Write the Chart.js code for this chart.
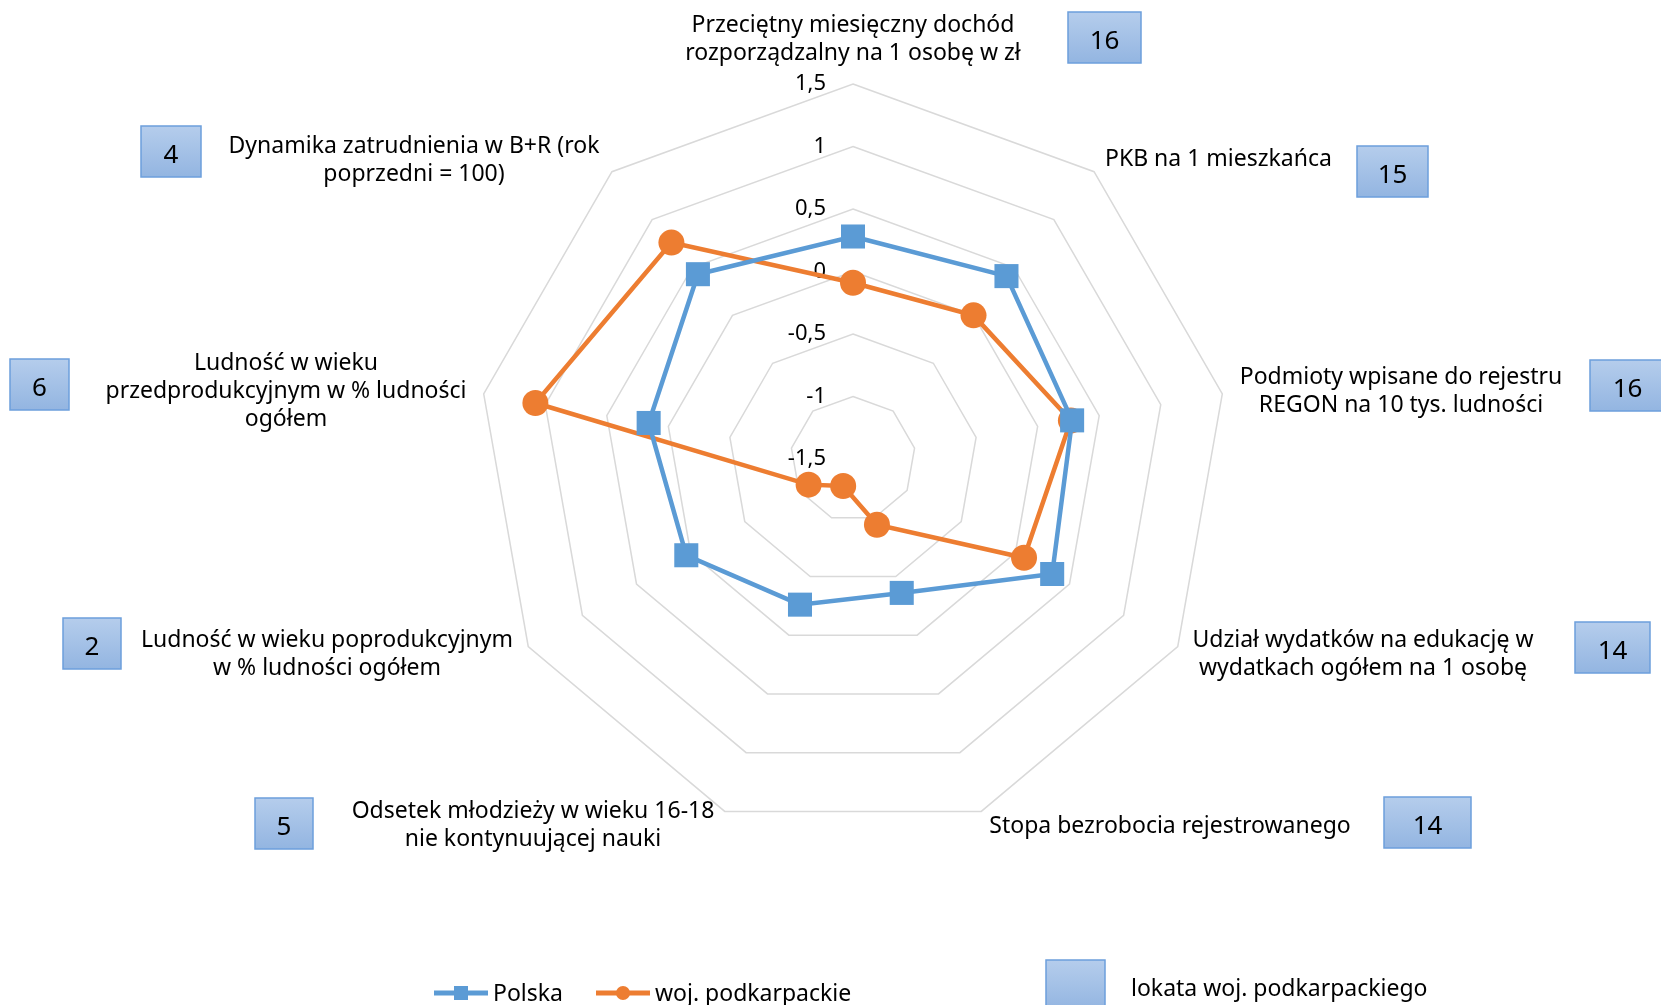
<!DOCTYPE html>
<html lang="pl">
<head>
<meta charset="utf-8">
<title>Wskaźniki - woj. podkarpackie na tle Polski</title>
<script src="https://cdn.jsdelivr.net/npm/chart.js@4.4.1/dist/chart.umd.min.js"></script>
<style>
    html, body { margin: 0; padding: 0; background: #ffffff; }
    #wrap { width: 1661px; height: 1005px; position: relative; }
</style>
</head>
<body>
<div id="wrap"><canvas id="radarChart" width="1661" height="1005"></canvas></div>
<script>
// --- DANE ---
const categories = [
    ['Przeciętny miesięczny dochód', 'rozporządzalny na 1 osobę w zł'],
    ['PKB na 1 mieszkańca'],
    ['Podmioty wpisane do rejestru', 'REGON na 10 tys. ludności'],
    ['Udział wydatków na edukację w', 'wydatkach ogółem na 1 osobę'],
    ['Stopa bezrobocia rejestrowanego'],
    ['Odsetek młodzieży w wieku 16-18', 'nie kontynuującej nauki'],
    ['Ludność w wieku poprodukcyjnym', 'w % ludności ogółem'],
    ['Ludność w wieku', 'przedprodukcyjnym w % ludności', 'ogółem'],
    ['Dynamika zatrudnienia w B+R (rok', 'poprzedni = 100)']
];
const polska = [0.28, 0.41, 0.28, 0.34, -0.36, -0.26, 0.04, 0.16, 0.43];
const podkarpackie = [-0.09, 0.00, 0.27, 0.08, -0.94, -1.27, -1.09, 1.08, 0.76];
const ranks = [16, 15, 16, 14, 14, 5, 2, 6, 4];
const seriesNames = ['Polska', 'woj. podkarpackie'];
const rankLegend = 'lokata woj. podkarpackiego';
const scaleMin = -1.5;
const scaleMax = 1.5;
const scaleStep = 0.5;

// --- UKŁAD (pozycje opisów i ramek z lokatą) ---
const FONT = '"Noto Sans", "Open Sans", sans-serif';
const labelLayout = [ // [środek x, linia bazowa pierwszego wiersza]
    [853, 32], [1105, 166], [1401, 384], [1363, 647], [1170, 833],
    [533, 818], [327, 647], [286, 370], [414, 153]
];
const labelAlign = ['center', 'left', 'center', 'center', 'center', 'center', 'center', 'center', 'center'];
const rankBoxes = [ // [x, y, szer., wys.]
    [1068, 12, 73, 51], [1357, 146, 71, 51], [1590, 360, 75, 51], [1575, 622, 75, 51], [1384, 797, 87, 51],
    [255, 798, 58, 51], [63, 618, 58, 51], [10, 359, 59, 51], [141, 126, 60, 51]
];
const lineHeight = 28;

function drawRankBox(ctx, x, y, w, h) {
    const g = ctx.createLinearGradient(0, y, 0, y + h);
    g.addColorStop(0, '#b5cdec');
    g.addColorStop(1, '#93b5e1');
    ctx.fillStyle = g;
    ctx.fillRect(x, y, w, h);
    ctx.strokeStyle = '#6c9fdc';
    ctx.lineWidth = 1.5;
    ctx.strokeRect(x, y, w, h);
}

// rysuje opisy osi skali (1,5 ... -1,5) pod seriami
const tickLabelsPlugin = {
    id: 'tickLabels',
    beforeDatasetsDraw(chart) {
        const scale = chart.scales.r;
        const ctx = chart.ctx;
        ctx.save();
        ctx.font = '22px ' + FONT;
        ctx.fillStyle = '#000000';
        ctx.textAlign = 'right';
        ctx.textBaseline = 'middle';
        scale.ticks.forEach(t => {
            const d = scale.getDistanceFromCenterForValue(t.value);
            const txt = String(Math.round(t.value * 10) / 10).replace('.', ',');
            ctx.fillText(txt, scale.xCenter - 27, scale.yCenter - d);
        });
        ctx.restore();
    }
};

// opisy kategorii, ramki z lokatą i legenda
const annotationsPlugin = {
    id: 'annotations',
    afterDraw(chart) {
        const ctx = chart.ctx;
        ctx.save();
        ctx.fillStyle = '#000000';
        ctx.textBaseline = 'alphabetic';

        // opisy kategorii
        ctx.font = '23px ' + FONT;
        categories.forEach((lines, i) => {
            const [x, y] = labelLayout[i];
            ctx.textAlign = labelAlign[i];
            lines.forEach((ln, k) => ctx.fillText(ln, x, y + k * lineHeight));
        });

        // lokaty
        ranks.forEach((r, i) => {
            const [x, y, w, h] = rankBoxes[i];
            drawRankBox(ctx, x, y, w, h);
            ctx.fillStyle = '#000000';
            ctx.font = '26px ' + FONT;
            ctx.textAlign = 'center';
            ctx.fillText(String(r), x + w / 2, y + h / 2 + 11);
        });

        // legenda
        const ds = chart.data.datasets;
        const ly = 993;
        ctx.font = '23px ' + FONT;
        ctx.textAlign = 'left';
        const items = [[434, 493], [596, 655]];
        ds.forEach((d, i) => {
            const [lx, tx] = items[i];
            ctx.strokeStyle = d.borderColor;
            ctx.lineWidth = 5;
            ctx.beginPath();
            ctx.moveTo(lx, ly);
            ctx.lineTo(lx + 54, ly);
            ctx.stroke();
            ctx.fillStyle = d.borderColor;
            if (d.pointStyle === 'rect') {
                ctx.fillRect(lx + 27 - 7, ly - 7, 14, 14);
            } else {
                ctx.beginPath();
                ctx.arc(lx + 27, ly, 7, 0, Math.PI * 2);
                ctx.fill();
            }
            ctx.fillStyle = '#000000';
            ctx.fillText(d.label, tx, ly + 8);
        });
        drawRankBox(ctx, 1046, 960, 59, 50);
        ctx.fillStyle = '#000000';
        ctx.fillText(rankLegend, 1131, 996);
        ctx.restore();
    }
};

const ctx = document.getElementById('radarChart').getContext('2d');
new Chart(ctx, {
    type: 'radar',
    data: {
        labels: categories,
        datasets: [{
            label: seriesNames[0],
            data: polska,
            borderColor: '#5b9bd5',
            backgroundColor: '#5b9bd5',
            borderWidth: 4.5,
            pointStyle: 'rect',
            pointRadius: 17,
            pointBorderWidth: 0,
            fill: false
        }, {
            label: seriesNames[1],
            data: podkarpackie,
            borderColor: '#ed7d31',
            backgroundColor: '#ed7d31',
            borderWidth: 4.5,
            pointStyle: 'circle',
            pointRadius: 13,
            pointBorderWidth: 0,
            fill: false
        }]
    },
    options: {
        responsive: false,
        animation: false,
        layout: { padding: { left: 478, right: 432, top: 84, bottom: 170 } },
        plugins: {
            legend: { display: false },
            tooltip: { enabled: false }
        },
        elements: { line: { tension: 0 } },
        scales: {
            r: {
                min: scaleMin,
                max: scaleMax,
                startAngle: 0,
                ticks: { display: false, stepSize: scaleStep },
                grid: { color: '#d9d9d9', lineWidth: 1.5 },
                angleLines: { display: false },
                pointLabels: { display: false }
            }
        }
    },
    plugins: [tickLabelsPlugin, annotationsPlugin]
});
</script>
</body>
</html>
